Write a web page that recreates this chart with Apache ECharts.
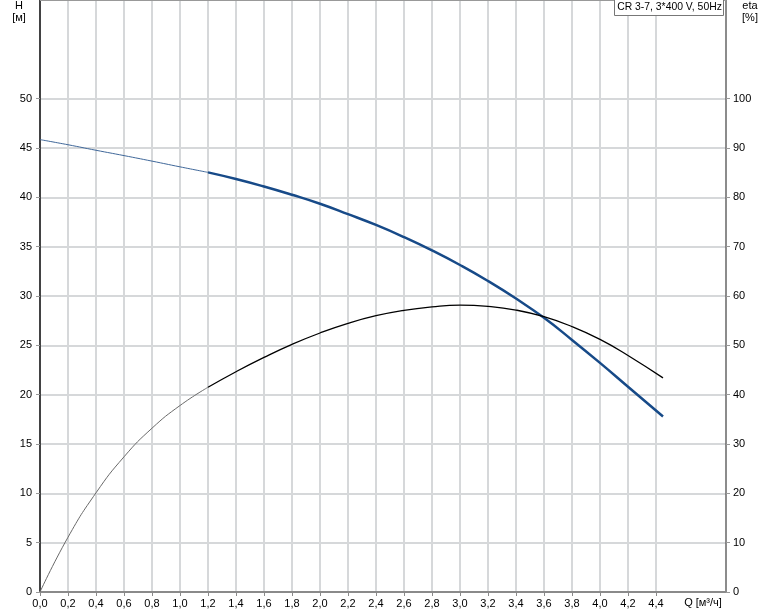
<!DOCTYPE html>
<html>
<head>
<meta charset="utf-8">
<script src="https://cdn.jsdelivr.net/npm/echarts@6/dist/echarts.min.js"></script>
<style>html,body{margin:0;padding:0;background:#fff}#c{width:774px;height:611px}</style>
</head>
<body>
<div id="c"></div>
<script>
// Flow Q [m3/h]
const qThin = [0, 0.2, 0.4, 0.6, 0.8, 1.0, 1.2];
const qThick = [1.2, 1.4, 1.6, 1.8, 2.0, 2.2, 2.4, 2.6, 2.8, 3.0, 3.2, 3.4, 3.6, 3.8, 4.0, 4.2, 4.45];
// Head H [m]
const hThin = [45.85, 45.33, 44.77, 44.23, 43.67, 43.09, 42.53];
const hThick = [42.53, 41.86, 41.1, 40.26, 39.35, 38.3, 37.2, 35.97, 34.62, 33.14, 31.52, 29.74, 27.79, 25.55, 23.22, 20.8, 17.78];
// Efficiency eta [%]
const etaThin = [0, 11.1, 20.1, 27.4, 33.2, 37.8, 41.5];
const etaThick = [41.5, 44.65, 47.55, 50.2, 52.5, 54.45, 56.0, 57.1, 57.8, 58.15, 57.9, 57.15, 55.8, 53.8, 51.2, 47.95, 43.4];
// Tick labels
const hTicks = [0, 5, 10, 15, 20, 25, 30, 35, 40, 45, 50];
const etaTicks = [0, 10, 20, 30, 40, 50, 60, 70, 80, 90, 100];
const qTicks = [0, 0.2, 0.4, 0.6, 0.8, 1.0, 1.2, 1.4, 1.6, 1.8, 2.0, 2.2, 2.4, 2.6, 2.8, 3.0, 3.2, 3.4, 3.6, 3.8, 4.0, 4.2, 4.4];
const titleText = 'CR 3-7, 3*400 V, 50Hz';

const zip = (a, b) => a.map((v, i) => [v, b[i]]);
const FONT = '"Liberation Sans", Arial, sans-serif';
const gridColor = '#d6d8da';

const chart = echarts.init(document.getElementById('c'), null, {renderer: 'canvas'});
chart.setOption({
  animation: false,
  backgroundColor: '#fff',
  textStyle: {fontFamily: FONT},
  grid: {left: 40, right: 48, top: 0, bottom: 19, containLabel: false, show: false},
  xAxis: {
    type: 'value', min: 0, max: 4.9, interval: 0.2,
    axisLine: {show: true, lineStyle: {color: '#8a8a8a', width: 2}},
    axisTick: {show: true, length: 4, lineStyle: {color: '#8a8a8a'}, customValues: qTicks},
    axisLabel: {color: '#000', fontSize: 11, fontFamily: FONT, margin: 6, customValues: qTicks,
      formatter: v => v.toFixed(1).replace('.', ',')},
    splitLine: {show: true, lineStyle: {color: gridColor, width: 2}}
  },
  yAxis: [{
    type: 'value', min: 0, max: 60, interval: 5, position: 'left',
    axisLine: {show: true, onZero: false, lineStyle: {color: '#111', width: 1.5}},
    axisTick: {show: true, length: 4, lineStyle: {color: '#999'}, customValues: hTicks},
    axisLabel: {color: '#000', fontSize: 11, fontFamily: FONT, margin: 8, customValues: hTicks},
    splitLine: {show: true, lineStyle: {color: gridColor, width: 2}}
  }, {
    type: 'value', min: 0, max: 120, interval: 10, position: 'right',
    axisLine: {show: true, onZero: false, lineStyle: {color: '#666', width: 1.5}},
    axisTick: {show: true, length: 4, lineStyle: {color: '#999'}, customValues: etaTicks},
    axisLabel: {color: '#000', fontSize: 11, fontFamily: FONT, margin: 7, customValues: etaTicks},
    splitLine: {show: false}
  }],
  series: [
    {type: 'line', yAxisIndex: 0, data: zip(qThin, hThin), smooth: 0.5, showSymbol: false,
      lineStyle: {color: '#40689a', width: 1}, z: 3},
    {type: 'line', yAxisIndex: 0, data: zip(qThick, hThick), smooth: 0.5, showSymbol: false,
      lineStyle: {color: '#174a88', width: 2.5}, z: 4},
    {type: 'line', yAxisIndex: 1, data: zip(qThin, etaThin), smooth: 0.5, showSymbol: false,
      lineStyle: {color: '#6a6a6a', width: 1}, z: 3},
    {type: 'line', yAxisIndex: 1, data: zip(qThick, etaThick), smooth: 0.5, showSymbol: false,
      lineStyle: {color: '#000', width: 1.3}, z: 4}
  ],
  graphic: [
    {type: 'line', shape: {x1: 40, y1: 0.5, x2: 726, y2: 0.5}, style: {stroke: '#999', lineWidth: 1}, z: 10},
    {type: 'rect', shape: {x: 614.5, y: -0.5, width: 109, height: 16}, style: {fill: '#fff', stroke: '#777', lineWidth: 1}, z: 20},
    {type: 'text', x: 669.5, y: 7.5, style: {text: titleText, font: '10.4px ' + FONT, fill: '#000', align: 'center', verticalAlign: 'middle'}, z: 21},
    {type: 'text', x: 19, y: 6, style: {text: 'H', font: '11px ' + FONT, fill: '#000', align: 'center', verticalAlign: 'middle'}, z: 21},
    {type: 'text', x: 19, y: 18, style: {text: '[м]', font: '11px ' + FONT, fill: '#000', align: 'center', verticalAlign: 'middle'}, z: 21},
    {type: 'text', x: 750, y: 6, style: {text: 'eta', font: '11px ' + FONT, fill: '#000', align: 'center', verticalAlign: 'middle'}, z: 21},
    {type: 'text', x: 750, y: 18, style: {text: '[%]', font: '11px ' + FONT, fill: '#000', align: 'center', verticalAlign: 'middle'}, z: 21},
    {type: 'text', x: 703, y: 603, style: {text: 'Q [м³/ч]', font: '11px ' + FONT, fill: '#000', align: 'center', verticalAlign: 'middle'}, z: 21}
  ]
});
</script>
</body>
</html>
